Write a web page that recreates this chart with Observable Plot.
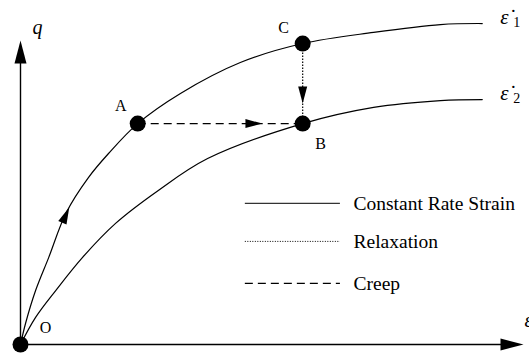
<!DOCTYPE html>
<html>
<head>
<meta charset="utf-8">
<script src="https://cdn.jsdelivr.net/npm/d3@7"></script>
<script src="https://cdn.jsdelivr.net/npm/@observablehq/plot@0.6"></script>
<style>
  html, body { margin: 0; padding: 0; background: #fff; }
  #chart svg { display: block; }
</style>
</head>
<body>
<div id="chart"></div>
<script>
// Stress (q) vs strain (ε) paths for two constant strain rates
const curve1X = [0, 0.10, 0.30, 0.56, 0.91, 1.35, 1.75, 2.33, 3.18, 4.37, 5.61, 7.02, 8.35, 9.18];
const curve1Y = [0, 0.83, 2.13, 3.43, 5.21, 6.59, 7.54, 8.72, 9.91, 11.13, 11.88, 12.32, 12.63, 12.67];
const curve2X = [0, 0.30, 0.70, 1.23, 1.89, 2.74, 3.72, 5.61, 7.02, 8.35, 9.18];
const curve2Y = [0, 1.07, 2.13, 3.43, 4.78, 6.08, 7.34, 8.72, 9.36, 9.63, 9.67];

// State points
const pointNames = ["O", "A", "B", "C"];
const pointX = [0, 2.33, 5.61, 5.61];
const pointY = [0, 8.72, 8.72, 11.88];

// Axis extents
const axisEndX = 10;
const axisEndY = 12;

// Legend entries
const legendLabels = ["Constant Rate Strain", "Relaxation", "Creep"];
const legendY = [5.57, 4.07, 2.41];
const legendX1 = 4.47, legendX2 = 6.36, legendTextX = 6.62;

// Curve labels (strain rates)
const rateLabels = ["ε̇", "ε̇"];
const rateSubscripts = ["1", "2"];

const curve1 = curve1X.map((x, i) => ({x, y: curve1Y[i]}));
const curve2 = curve2X.map((x, i) => ({x, y: curve2Y[i]}));
const points = pointNames.map((name, i) => ({name, x: pointX[i], y: pointY[i]}));
const P = Object.fromEntries(points.map(p => [p.name, p]));
const curveEnds = [curve1[curve1.length - 1], curve2[curve2.length - 1]]
  .map((d, i) => ({...d, label: rateLabels[i], sub: rateSubscripts[i]}));

// Filled arrowhead symbol with its tip at the origin, pointing up
function arrowHead(len, half) {
  return {
    draw(ctx) {
      ctx.moveTo(0, 0);
      ctx.lineTo(half, len);
      ctx.lineTo(-half, len);
      ctx.closePath();
    }
  };
}
const bigHead = arrowHead(23, 6);
const smallHead = arrowHead(17, 4.5);

const serif = "Liberation Serif, Times New Roman, serif";

const legendRows = legendLabels.map((label, i) => ({label, y: legendY[i]}));

// point label with a fixed offset from its dot
function pointLabel(name, dx, dy) {
  return Plot.text([P[name]], {x: "x", y: "y", text: "name", dx, dy, fontSize: 16, fill: "black"});
}

const chart = Plot.plot({
  width: 529,
  height: 358,
  marginLeft: 20,
  marginRight: 6,
  marginTop: 40,
  marginBottom: 14,
  x: {domain: [0, axisEndX], axis: null},
  y: {domain: [0, axisEndY], axis: null},
  style: {fontFamily: serif, background: "#fff"},
  marks: [
    // axes
    Plot.ruleX([0], {y1: 0, y2: axisEndY - 0.5, stroke: "black", strokeWidth: 1.4}),
    Plot.ruleY([0], {x1: 0, x2: axisEndX - 0.3, stroke: "black", strokeWidth: 1.4}),
    Plot.dot([{x: 0, y: axisEndY}], {x: "x", y: "y", symbol: bigHead, fill: "black", stroke: null}),
    Plot.dot([{x: axisEndX, y: 0}], {x: "x", y: "y", symbol: bigHead, rotate: 90, fill: "black", stroke: null}),

    // constant-rate strain curves
    Plot.line(curve1, {x: "x", y: "y", curve: "catmull-rom", stroke: "black", strokeWidth: 1.2}),
    Plot.line(curve2, {x: "x", y: "y", curve: "catmull-rom", stroke: "black", strokeWidth: 1.2}),
    Plot.dot([{x: 0.97, y: 5.42}], {x: "x", y: "y", symbol: smallHead, rotate: 24, fill: "black", stroke: null}),

    // creep A -> B
    Plot.link([{a: P.A, b: P.B}], {
      x1: d => d.a.x, y1: d => d.a.y, x2: d => d.b.x, y2: d => d.b.y,
      stroke: "black", strokeWidth: 1.2, strokeDasharray: "8,5"
    }),
    Plot.dot([{x: 4.81, y: P.A.y}], {x: "x", y: "y", symbol: smallHead, rotate: 90, fill: "black", stroke: null}),

    // relaxation C -> B
    Plot.link([{a: P.C, b: P.B}], {
      x1: d => d.a.x, y1: d => d.a.y, x2: d => d.b.x, y2: d => d.b.y,
      stroke: "black", strokeWidth: 1.2, strokeDasharray: "1.5,1.5"
    }),
    Plot.dot([{x: P.C.x, y: 9.51}], {x: "x", y: "y", symbol: smallHead, rotate: 180, fill: "black", stroke: null}),

    // state points
    Plot.dot(points, {x: "x", y: "y", r: 8, fill: "black", stroke: null}),
    pointLabel("O", 25, -17),
    pointLabel("A", -17, -18),
    pointLabel("B", 18, 20),
    pointLabel("C", -19, -16),

    // axis labels
    Plot.text([{x: 0, y: axisEndY, t: "q"}], {x: "x", y: "y", text: "t", dx: 17, dy: -13, fontSize: 20, fontStyle: "italic", fill: "black"}),
    Plot.text([{x: axisEndX, y: 0, t: "ε"}], {x: "x", y: "y", text: "t", dx: 1, dy: -24, textAnchor: "start", fontSize: 20, fontStyle: "italic", fill: "black"}),

    // curve labels
    Plot.text(curveEnds, {x: "x", y: "y", text: "label", dx: 18, dy: -6, textAnchor: "start", fontSize: 21, fontStyle: "italic", fill: "black"}),
    Plot.text(curveEnds, {x: "x", y: "y", text: "sub", dx: 31, dy: -1, textAnchor: "start", fontSize: 14, fill: "black"}),

    // legend
    Plot.ruleY(legendRows.slice(0, 1), {y: "y", x1: legendX1, x2: legendX2, stroke: "#333", strokeWidth: 1.4}),
    Plot.ruleY(legendRows.slice(1, 2), {y: "y", x1: legendX1, x2: legendX2, stroke: "black", strokeWidth: 1, strokeDasharray: "1,1.5"}),
    Plot.ruleY(legendRows.slice(2, 3), {y: "y", x1: legendX1, x2: legendX2, stroke: "black", strokeWidth: 1.2, strokeDasharray: "8,5"}),
    Plot.text(legendRows, {x: legendTextX, y: "y", text: "label", textAnchor: "start", fontSize: 19.5, fill: "black"})
  ]
});

document.getElementById("chart").appendChild(chart);
</script>
</body>
</html>
